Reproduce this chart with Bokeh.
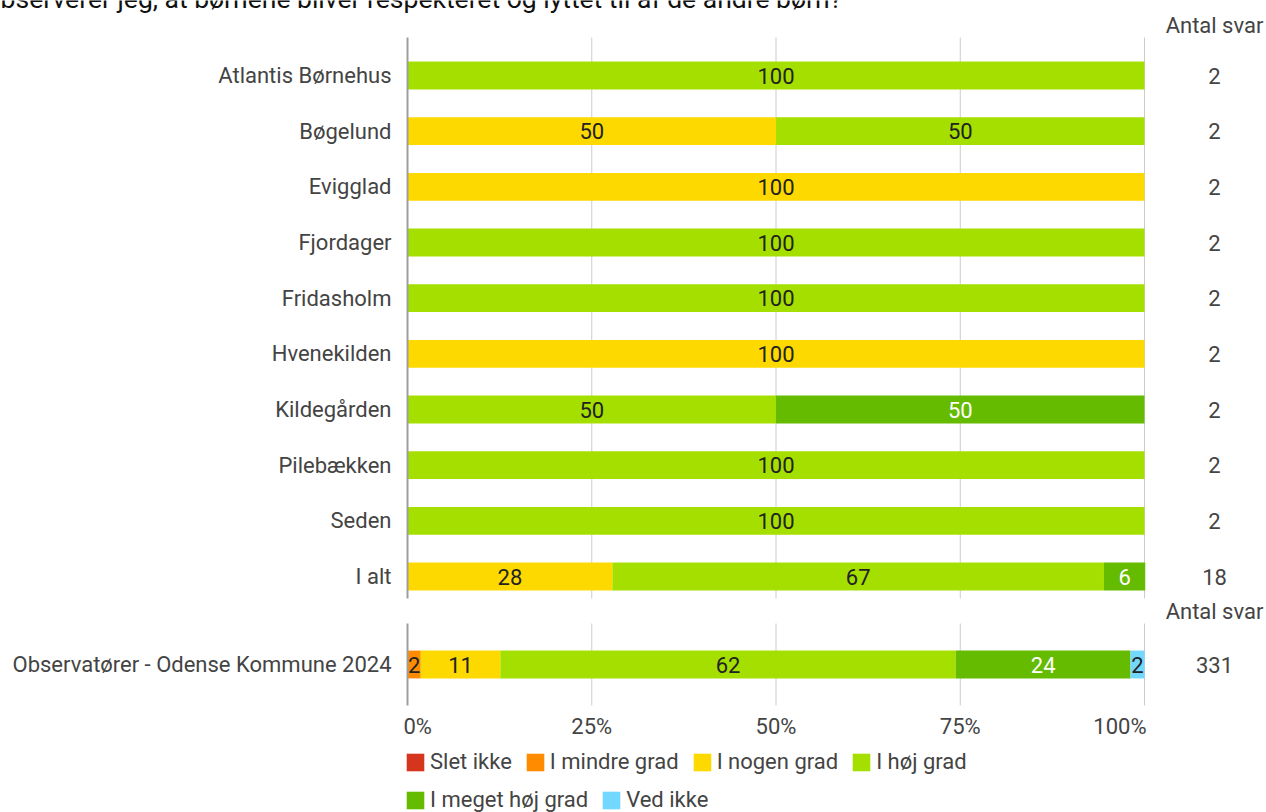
from bokeh.plotting import figure
from bokeh.models import Range1d, ColumnDataSource, Legend, LegendItem
from bokeh.core.properties import value
from bokeh.embed import file_html
from bokeh.resources import INLINE

# ---------------- data ----------------
title_text = "observerer jeg, at børnene bliver respekteret og lyttet til af de andre børn?"
series = ["Slet ikke", "I mindre grad", "I nogen grad", "I høj grad", "I meget høj grad", "Ved ikke"]
colors = ["#d4351c", "#ff8c00", "#fdd900", "#a5df00", "#64bb00", "#73d8ff"]
label_colors = ["#222222", "#222222", "#222222", "#222222", "#ffffff", "#222222"]

institutions = ["Atlantis Børnehus", "Bøgelund", "Evigglad", "Fjordager", "Fridasholm",
                "Hvenekilden", "Kildegården", "Pilebækken", "Seden", "I alt"]
slet_ikke = [0, 0, 0, 0, 0, 0, 0, 0, 0, 0]
mindre = [0, 0, 0, 0, 0, 0, 0, 0, 0, 0]
nogen = [0, 50, 100, 0, 0, 100, 0, 0, 0, 27.8]
hoej = [100, 50, 0, 100, 100, 0, 50, 100, 100, 66.7]
meget_hoej = [0, 0, 0, 0, 0, 0, 50, 0, 0, 5.6]
ved_ikke = [0, 0, 0, 0, 0, 0, 0, 0, 0, 0]
antal = [2, 2, 2, 2, 2, 2, 2, 2, 2, 18]

bench_name = "Observatører - Odense Kommune 2024"
bench_vals = [0, 1.8, 10.8, 61.8, 23.7, 1.9]
bench_antal = 331

x_ticks = [0, 25, 50, 75, 100]
x_tick_labels = ["0%", "25%", "50%", "75%", "100%"]
count_header = "Antal svar"

# ---------------- layout constants (pixels -> data) ----------------
FONT = "Roboto"
TXT = "#444444"
FS = "22px"
W, H = 1266, 812
ROWPX = 55.67          # pixels per row
PX_X = 7.37            # pixels per percent
ROW0 = 75              # page y of first row centre
FRAME_L = 407          # page x of 0 %


def py(page_y):
    return (page_y - ROW0) / ROWPX


def px(page_x):
    return (page_x - FRAME_L) / PX_X


n = len(institutions)
bench_y = py(664)
ys = list(range(n)) + [bench_y]
names = institutions + [bench_name]
counts = antal + [bench_antal]

top_sec = (py(37), py(598))
bot_sec = (py(623), py(705))

p = figure(width=W, height=H,
           x_range=Range1d(px(0), px(W)),
           y_range=Range1d(py(H), py(0)),
           output_backend="svg", toolbar_location=None,
           min_border=0)
p.outline_line_color = None
p.grid.grid_line_color = None
p.xaxis.visible = False
p.yaxis.visible = False
p.background_fill_color = "white"
p.border_fill_color = "white"

# grid lines (two sections)
gx0, gy0, gx1, gy1 = [], [], [], []
for sec in (top_sec, bot_sec):
    for t in x_ticks[1:]:
        gx0.append(t); gx1.append(t); gy0.append(sec[0]); gy1.append(sec[1])
p.segment(gx0, gy0, gx1, gy1, line_color="#cccccc", line_width=1)

# bars
data = {"y": ys}
all_vals = [slet_ikke, mindre, nogen, hoej, meget_hoej, ved_ikke]
for k, s in enumerate(series):
    data[s] = all_vals[k] + [bench_vals[k]]
src = ColumnDataSource(data)
rends = p.hbar_stack(series, y="y", height=0.5, color=colors, line_color=None, source=src)

# left baseline for each section
p.segment([0, 0], [top_sec[0], bot_sec[0]], [0, 0], [top_sec[1], bot_sec[1]],
          line_color="#9e9e9e", line_width=2)

# segment value labels
lx, ly, lt, lc = [], [], [], []
for i, yv in enumerate(ys):
    left = 0.0
    for k in range(len(series)):
        v = data[series[k]][i]
        if v > 0:
            lx.append(left + v / 2)
            ly.append(yv)
            lt.append(str(int(round(v))))
            lc.append(label_colors[k])
        left += v
p.text(x=lx, y=ly, text=lt, text_color=lc, text_align="center", text_baseline="middle",
       text_font=value(FONT), text_font_size=FS)

# row names (category labels)
p.text(x=[px(391)] * len(ys), y=ys, text=names, text_color=TXT,
       text_align="right", text_baseline="middle",
       text_font=value(FONT), text_font_size=FS)

# counts column
cx = px(1214)
p.text(x=[cx] * len(ys), y=ys, text=[str(c) for c in counts], text_color=TXT,
       text_align="center", text_baseline="middle",
       text_font=value(FONT), text_font_size=FS)
p.text(x=[cx, cx], y=[py(25), py(611)], text=[count_header, count_header], text_color=TXT,
       text_align="center", text_baseline="middle",
       text_font=value(FONT), text_font_size=FS)

# x tick labels (first left-aligned, last right-aligned, as in the original)
aligns = ["left"] + ["center"] * (len(x_ticks) - 2) + ["right"]
offs = [-4] + [0] * (len(x_ticks) - 2) + [2]
tsrc = ColumnDataSource(dict(x=x_ticks, y=[py(726)] * len(x_ticks), t=x_tick_labels,
                             a=aligns, o=offs))
p.text(x="x", y="y", text="t", text_align="a", x_offset="o", source=tsrc,
       text_color=TXT, text_baseline="middle", text_font=value(FONT), text_font_size=FS)

# title (cut off at the top, as in the original)
p.text(x=[px(-15)], y=[py(-2.5)], text=[title_text], text_color="#111111",
       text_align="left", text_baseline="alphabetic",
       text_font=value(FONT), text_font_size="26.5px")

# legend, two rows
items = [LegendItem(label=s, renderers=[r]) for s, r in zip(series, rends)]
for grp, bottom in ((items[:4], 774), (items[4:], 812)):
    lg = Legend(items=grp, orientation="horizontal", location=(FRAME_L - 3, H - bottom),
                glyph_width=22, glyph_height=22, label_standoff=4, spacing=12,
                padding=0, margin=0, border_line_color=None, background_fill_alpha=0,
                label_text_font=FONT, label_text_font_size=FS, label_text_color=TXT,
                label_height=22, click_policy="none")
    p.add_layout(lg, "center")

open("out.html", "w").write(file_html(p, INLINE))
